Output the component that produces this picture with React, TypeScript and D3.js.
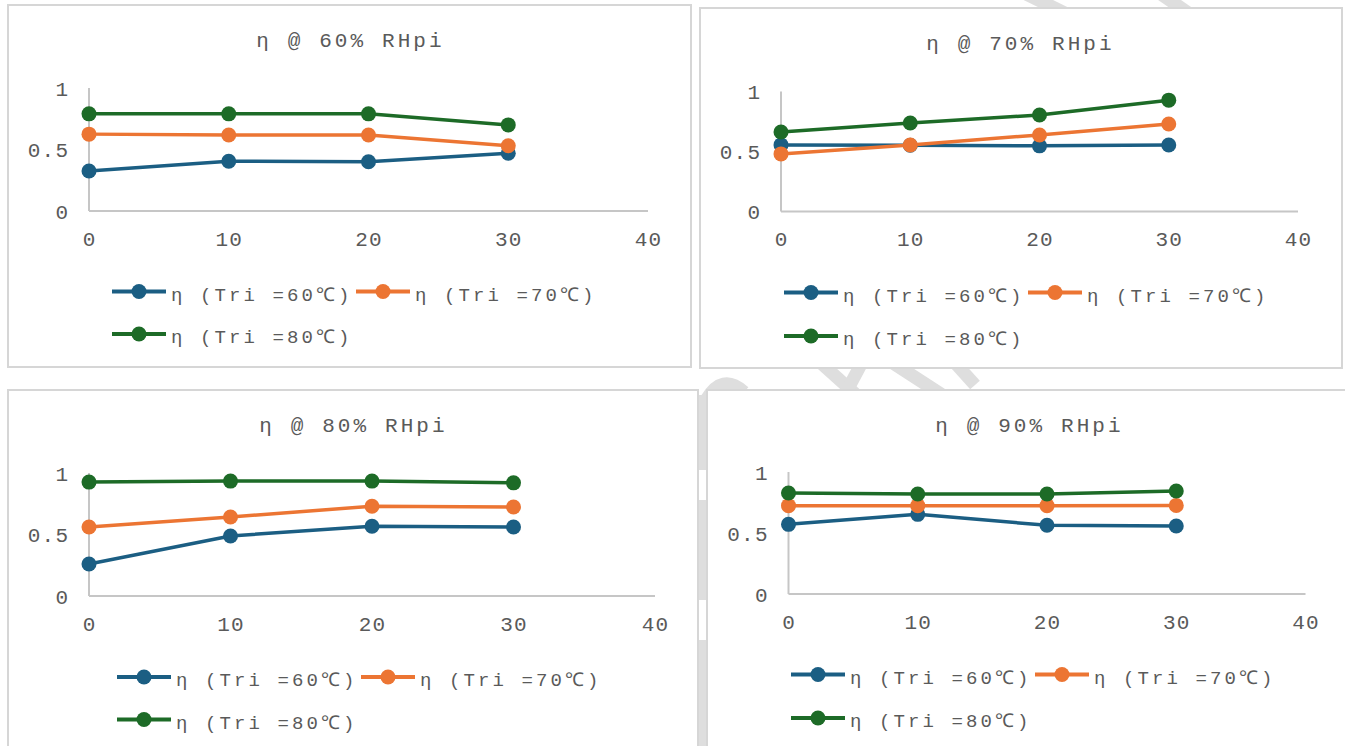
import React from 'react';
import * as d3 from 'd3';

// ---------- data ----------
const xValues = [0, 10, 20, 30];
const xTicks = [0, 10, 20, 30, 40];
const yTicks = [0, 0.5, 1];
const seriesNames = ['η (Tri =60℃)', 'η (Tri =70℃)', 'η (Tri =80℃)'];
const panelTitles = ['η @ 60% RHpi', 'η @ 70% RHpi', 'η @ 80% RHpi', 'η @ 90% RHpi'];

const rh60Tri60 = [0.325, 0.405, 0.4, 0.47];
const rh60Tri70 = [0.625, 0.618, 0.618, 0.53];
const rh60Tri80 = [0.79, 0.79, 0.79, 0.7];

const rh70Tri60 = [0.555, 0.552, 0.547, 0.554];
const rh70Tri70 = [0.48, 0.554, 0.638, 0.729];
const rh70Tri80 = [0.663, 0.738, 0.804, 0.928];

const rh80Tri60 = [0.26, 0.488, 0.567, 0.561];
const rh80Tri70 = [0.561, 0.642, 0.73, 0.724];
const rh80Tri80 = [0.926, 0.934, 0.934, 0.92];

const rh90Tri60 = [0.571, 0.653, 0.563, 0.557];
const rh90Tri70 = [0.724, 0.724, 0.724, 0.726];
const rh90Tri80 = [0.828, 0.82, 0.82, 0.844];

const panelSeries = [
  [rh60Tri60, rh60Tri70, rh60Tri80],
  [rh70Tri60, rh70Tri70, rh70Tri80],
  [rh80Tri60, rh80Tri70, rh80Tri80],
  [rh90Tri60, rh90Tri70, rh90Tri80],
];

// ---------- styles / layout ----------
const COLORS = ['#1b5e83', '#ec7533', '#1d6b27'];
const TEXT = '#5a5a5a';
const FONT = "'Liberation Mono', 'Courier New', 'DejaVu Sans Mono', monospace";

const layouts = [
  { bx: 8, by: 5, bw: 683, bh: 362, x0: 89, x1: 648, y0: 211, y1: 88, tcx: 349, leg1: 112, leg2: 356, r1: 291.5, r2: 334 },
  { bx: 700, by: 8, bw: 642, bh: 360, x0: 781, x1: 1298, y0: 211.5, y1: 91.5, tcx: 1019, leg1: 784, leg2: 1028, r1: 292.5, r2: 336 },
  { bx: 8, by: 390, bw: 690, bh: 380, x0: 89, x1: 655, y0: 596, y1: 473, tcx: 352, leg1: 117, leg2: 361, r1: 677, r2: 719.5 },
  { bx: 707, by: 390, bw: 660, bh: 380, x0: 788.5, x1: 1305.5, y0: 594, y1: 472, tcx: 1028, leg1: 791, leg2: 1035, r1: 674.5, r2: 718 },
];

type MTProps = { x: number; y: number; text: string; size: number; cell: number; anchor?: 'start' | 'middle' | 'end'; fill?: string };
function MonoText({ x, y, text, size, cell, anchor = 'start', fill = TEXT }: MTProps) {
  const adv = 0.6 * size;
  const n = Array.from(text).length;
  const width = (n - 1) * cell + adv;
  let start = x;
  if (anchor === 'middle') start = x - width / 2;
  if (anchor === 'end') start = x - width;
  return (
    <text x={start} y={y} fontSize={size} fill={fill} fontFamily={FONT}
      style={{ letterSpacing: `${cell - adv}px`, whiteSpace: 'pre' }}>
      {text}
    </text>
  );
}

function Panel({ idx }: { idx: number }) {
  const L = layouts[idx];
  const xs = d3.scaleLinear().domain([0, 40]).range([L.x0, L.x1]);
  const ys = d3.scaleLinear().domain([0, 1]).range([L.y0, L.y1]);
  const line = d3.line<number>().x((_, i) => xs(xValues[i])).y((d) => ys(d));
  const series = panelSeries[idx];

  const legendItems = [
    { s: 0, lx: L.leg1, ly: L.r1 },
    { s: 1, lx: L.leg2, ly: L.r1 },
    { s: 2, lx: L.leg1, ly: L.r2 },
  ];

  return (
    <g>
      <rect x={L.bx} y={L.by} width={L.bw} height={L.bh} fill="#fff" stroke="#d6d6d6" strokeWidth={2} />
      <MonoText x={L.tcx} y={L.by + 42} text={panelTitles[idx]} size={21} cell={15.7} anchor="middle" />
      {/* axes */}
      <line x1={xs(0)} x2={xs(0)} y1={ys(1)} y2={ys(0)} stroke="#c6c6c6" strokeWidth={2} />
      <line x1={xs(0)} x2={xs(40)} y1={ys(0)} y2={ys(0)} stroke="#c6c6c6" strokeWidth={2} />
      {yTicks.map((t) => (
        <MonoText key={'y' + t} x={xs(0) - 21} y={ys(t) + 7.5} text={String(t)} size={21} cell={13.8} anchor="end" />
      ))}
      {xTicks.map((t) => (
        <MonoText key={'x' + t} x={xs(t)} y={ys(0) + 34.5} text={String(t)} size={21} cell={13.8} anchor="middle" />
      ))}
      {/* series */}
      {series.map((vals, si) => (
        <g key={si}>
          <path d={line(vals) || ''} fill="none" stroke={COLORS[si]} strokeWidth={3.5} strokeLinejoin="round" />
          {vals.map((v, i) => (
            <circle key={i} cx={xs(xValues[i])} cy={ys(v)} r={7.5} fill={COLORS[si]} />
          ))}
        </g>
      ))}
      {/* legend */}
      {legendItems.map((it) => (
        <g key={it.s}>
          <line x1={it.lx} x2={it.lx + 54} y1={it.ly} y2={it.ly} stroke={COLORS[it.s]} strokeWidth={4} />
          <circle cx={it.lx + 27} cy={it.ly} r={7.5} fill={COLORS[it.s]} />
          <MonoText x={it.lx + 59} y={it.ly + 9} text={seriesNames[it.s]} size={19} cell={14.5} />
        </g>
      ))}
    </g>
  );
}

function Watermark() {
  const c = '#dedede';
  return (
    <g stroke={c} fill="none" strokeWidth={13} strokeLinecap="butt">
      <line x1={1022} y1={-8} x2={1075} y2={18} />
      <line x1={1158} y1={-8} x2={1210} y2={28} />
      <line x1={812} y1={355} x2={862} y2={400} />
      <line x1={842} y1={400} x2={866} y2={355} />
      <line x1={876} y1={352} x2={950} y2={400} />
      <line x1={948} y1={355} x2={975} y2={385} />
      <path d="M 706 400 Q 722 372 744 392" />
      <path d="M 703 395 L 703 470 M 703 500 L 703 600 M 703 640 L 703 760" strokeWidth={9} />
    </g>
  );
}

export default function App() {
  return (
    <svg width={1345} height={746} style={{ position: 'absolute', left: 0, top: 0, background: '#fff' }}>
      <rect x={0} y={0} width={1345} height={746} fill="#fff" />
      <Watermark />
      {[0, 1, 2, 3].map((i) => (
        <Panel key={i} idx={i} />
      ))}
    </svg>
  );
}
